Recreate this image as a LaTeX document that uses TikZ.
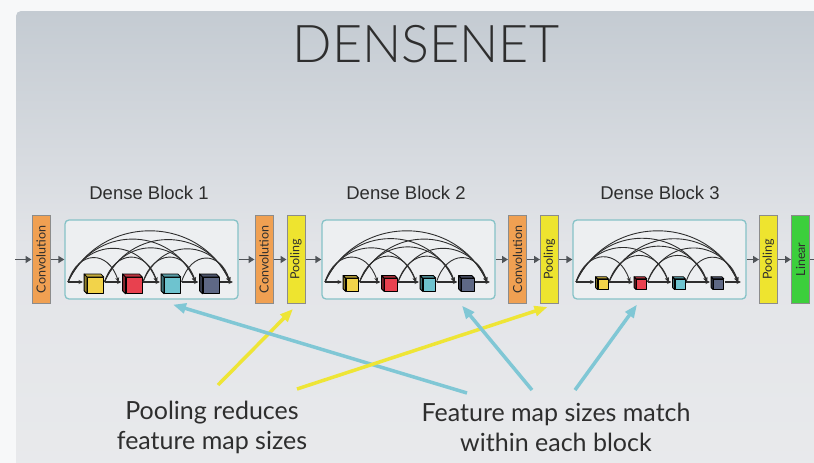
\documentclass[tikz,border=0pt]{standalone}
\usepackage{fontspec}
\usepackage{graphicx}
\setmainfont{Lato}
\newfontfamily\labelfont{Liberation Sans}
\newfontfamily\titlefont{Lato Light}
\usetikzlibrary{arrows.meta,calc}

\definecolor{pagewhite}{HTML}{F7F8F9}
\definecolor{slidetop}{HTML}{C4CBD2}
\definecolor{slidemid}{HTML}{E2E4E8}
\definecolor{slidebot}{HTML}{E9EAEC}
\definecolor{convorange}{HTML}{F0A052}
\definecolor{poolyellow}{HTML}{EEE42F}
\definecolor{lineargreen}{HTML}{3CCF3C}
\definecolor{boxedge}{HTML}{8C8C8C}
\definecolor{blockedge}{HTML}{86C2C7}
\definecolor{blockfill}{HTML}{EDEFF1}
\definecolor{flowgrey}{HTML}{505458}
\definecolor{inkdark}{HTML}{2E2E2E}
\definecolor{cubeyellow}{HTML}{F2D34A}
\definecolor{cubered}{HTML}{E8414F}
\definecolor{cubecyan}{HTML}{6EC3CF}
\definecolor{cubeslate}{HTML}{5E6885}
\definecolor{calloutyellow}{HTML}{EEE536}
\definecolor{calloutcyan}{HTML}{80C7D5}

\tikzset{
  layerbox/.style={draw=boxedge, line width=1pt, minimum width=18pt, minimum height=88pt,
    inner sep=0pt, font=\fontsize{12.5}{13}\selectfont, text=inkdark},
  convbox/.style={layerbox, fill=convorange},
  poolbox/.style={layerbox, fill=poolyellow},
  linbox/.style={layerbox, fill=lineargreen},
  blockframe/.style={draw=blockedge, line width=1.3pt, fill=blockfill, rounded corners=4pt,
    minimum width=173pt, minimum height=79pt, inner sep=0pt},
  blocklabel/.style={font=\labelfont\fontsize{18.5}{20}\selectfont, text=inkdark},
  flow/.style={draw=flowgrey, line width=1.6pt, -{Triangle[length=6pt,width=7pt]}},
  mainline/.style={draw=inkdark, line width=1.1pt, -{Stealth[length=4.5pt,width=4pt]}},
  skipline/.style={draw=inkdark, line width=0.9pt, -{Stealth[length=4.5pt,width=4pt]}},
  cubeface/.style={draw=black, line width=0.8pt, inner sep=0pt, line join=round},
  callout/.style={line width=3.5pt, -{Triangle[length=13pt,width=10pt]}},
  note/.style={font=\fontsize{25}{30}\selectfont, align=center, text=inkdark},
}

\begin{document}
\begin{tikzpicture}[x=1pt,y=-1pt]
\useasboundingbox (0,0) rectangle (814,463);

% page and slide background
\fill[pagewhite] (0,0) rectangle (814,463);
\begin{scope}
  \clip[rounded corners=5pt] (16,11) rectangle (830,480);
  \shade[top color=slidetop, bottom color=slidebot, middle color=slidemid] (16,11) rectangle (830,480);
\end{scope}

% title
\node[font=\titlefont\fontsize{52}{52}\selectfont, text=inkdark] (title) at (426,44) {DENSENET};

% layers outside the dense blocks
\node[convbox] (c1) at (41,259.5) {\rotatebox{90}{Convolution}};
\node[convbox] (c2) at (264,259.5) {\rotatebox{90}{Convolution}};
\node[poolbox] (p1) at (296,259.5) {\rotatebox{90}{Pooling}};
\node[convbox] (c3) at (517.5,259.5) {\rotatebox{90}{Convolution}};
\node[poolbox] (p2) at (549.5,259.5) {\rotatebox{90}{Pooling}};
\node[poolbox] (p3) at (768.5,259.5) {\rotatebox{90}{Pooling}};
\node[linbox] (lin) at (800.5,259.5) {\rotatebox{90}{Linear}};

% dense block frames and their titles
\node[blockframe] (b1) at (151.5,259.5) {};
\node[blockframe] (b2) at (408.5,259.5) {};
\node[blockframe] (b3) at (659.5,259.5) {};
\node[blocklabel] (l1) at (149,193) {Dense Block 1};
\node[blocklabel] (l2) at (406,193) {Dense Block 2};
\node[blocklabel] (l3) at (660,193) {Dense Block 3};

% data flow between layers
\coordinate (in) at (15,259.5);
\coordinate (out) at (824,259.5);
\draw[flow] (in) -- (c1.west);
\draw[flow] (c1) -- (b1);
\draw[flow] (b1) -- (c2);
\draw[flow] (c2) -- (p1);
\draw[flow] (p1) -- (b2);
\draw[flow] (b2) -- (c3);
\draw[flow] (c3) -- (p2);
\draw[flow] (p2) -- (b3);
\draw[flow] (b3) -- (p3);
\draw[flow] (p3) -- (lin);
\draw[flow] (lin) -- (out);

% inside each dense block: four feature maps and all skip connections
\foreach \k/\L/\s/\d in {1/65/19/3, 2/322/15/2.5, 3/573/12/2}{
  \coordinate (b\k-src0) at (\L+3,282);
  \coordinate (b\k-tgt5) at (\L+168,282);
  \foreach \i/\col in {1/cubeyellow, 2/cubered, 3/cubecyan, 4/cubeslate}{
    \pgfmathsetmacro\cx{\L+29+38.5*(\i-1)}
    \pgfmathsetmacro\f{\s-\d}
    \coordinate (b\k-tgt\i) at (\cx-\s/2-1.5,282);
    \coordinate (b\k-src\i) at (\cx+\s/2+1,282);
    \node[cubeface, fill=\col, minimum size=\f pt] (b\k-cube\i) at (\cx+\d/2, 282+0.1*\s+\d/2) {};
    \filldraw[cubeface, fill=\col!60!black]
      (b\k-cube\i.south west) -- ($(b\k-cube\i.south west)+(-\d,-\d)$)
      -- ($(b\k-cube\i.north west)+(-\d,-\d)$) -- (b\k-cube\i.north west) -- cycle;
    \filldraw[cubeface, fill=\col!80!black]
      (b\k-cube\i.north west) -- ($(b\k-cube\i.north west)+(-\d,-\d)$)
      -- ($(b\k-cube\i.north east)+(-\d,-\d)$) -- (b\k-cube\i.north east) -- cycle;
  }
  \foreach \i [evaluate=\i as \j using int(\i+1)] in {0,...,4}{
    \draw[mainline] (b\k-src\i) -- (b\k-tgt\j);
  }
  \foreach \a in {0,...,3}{
    \pgfmathtruncatemacro\bfirst{\a+2}
    \foreach \b in {\bfirst,...,5}{
      \pgfmathsetmacro\xa{\a==0 ? \L+3 : \L+29+38.5*(\a-1)+\s/2+1}
      \pgfmathsetmacro\xb{\b==5 ? \L+168 : \L+29+38.5*(\b-1)-\s/2-1.5}
      \pgfmathsetmacro\sp{\xb-\xa-3}
      \pgfmathsetmacro\ch{4/3*(0.24*\sp+12)}
      \draw[skipline] (b\k-src\a) .. controls +({0.2*\sp},{-\ch}) and +({-0.2*\sp},{-\ch})
        .. ([xshift=-3pt]b\k-tgt\b);
    }
  }
}

% annotations
\node[note] (poolnote) at (212,427) {Pooling reduces\\feature map sizes};
\node[note] (sizenote) at (556,427) {Feature map sizes match\\within each block};

\coordinate (ya) at (218,385);
\coordinate (yb) at (297,389);
\coordinate (ca) at (467,393);
\coordinate (cb) at (532,390);
\coordinate (cc) at (575,390);

\draw[callout, calloutyellow] (ya) -- ([xshift=-3pt,yshift=-5pt]p1.south);
\draw[callout, calloutcyan] (ca) -- ([xshift=21.5pt,yshift=-5pt]b1.south);
\draw[callout, calloutyellow] (yb) -- ([xshift=-2pt,yshift=-3pt]p2.south);
\draw[callout, calloutcyan] (cb) -- ([xshift=53.5pt,yshift=-6pt]b2.south);
\draw[callout, calloutcyan] (cc) -- ([xshift=-22.5pt,yshift=-5pt]b3.south);
\end{tikzpicture}
\end{document}
